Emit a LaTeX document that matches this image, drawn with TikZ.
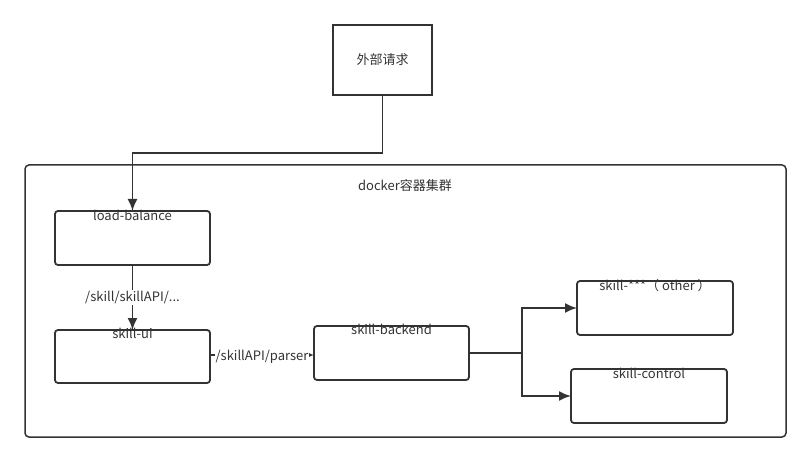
\documentclass[tikz,border=0pt]{standalone}
\usepackage{fontspec}
\setmainfont{Noto Sans CJK SC}
\usetikzlibrary{arrows.meta}
\definecolor{ln}{HTML}{333333}
\begin{document}
\begin{tikzpicture}[x=1pt,y=-1pt,
  txt/.style={font=\fontsize{13}{15}\selectfont, text=ln, inner sep=0pt},
  svc/.style={draw=ln, line width=1.8pt, rounded corners=3pt},
  conn/.style={draw=ln, line width=1.8pt, -{Latex[length=12pt,width=10pt]}},
  lbl/.style={txt, fill=white, inner sep=1pt}]
\useasboundingbox (0,0) rectangle (811,462);
% external request
\draw[draw=ln, line width=1.8pt] (333,25) rectangle (432,95);
\node[txt] (ext) at (382.5,60) {外部请求};
\coordinate (extb) at (382.5,95);
% container
\draw[draw=ln, line width=1.5pt, rounded corners=4pt] (25,165) rectangle (786,437);
\node[txt] (dock) at (405,186) {docker容器集群};
% boxes
\draw[svc] (55,211) rectangle (210,265);
\node[txt, anchor=north] (lbt) at (132.5,210) {load-balance};
\coordinate (lbtop) at (132.5,211);
\coordinate (lbbot) at (132.5,265);

\draw[svc] (55,330) rectangle (210,383);
\node[txt, anchor=north] (uit) at (132.5,328) {skill-ui};
\coordinate (uitop) at (132.5,330);
\coordinate (uiright) at (210,355);

\draw[svc] (314,326) rectangle (469,380);
\node[txt, anchor=north] (bet) at (391.5,324) {skill-backend};
\coordinate (beleft) at (314,355);
\coordinate (beright) at (469,353);

\draw[svc] (577,281) rectangle (733,335);
\node[txt, anchor=north] (ot) at (655,279) {skill-***（ other ）};
\coordinate (otleft) at (577,308);

\draw[svc] (571,369) rectangle (727,423);
\node[txt, anchor=north] (ct) at (649,368) {skill-control};
\coordinate (ctleft) at (571,396);

% connectors
\draw[conn] (extb) -- (382.5,153) -- (132.5,153) -- (lbtop);
\draw[conn] (lbbot) -- node[lbl] (l1) {/skill/skillAPI/...} (uitop);
\draw[draw=ln, line width=1.5pt, -{Latex[length=5pt,width=4pt]}] (uiright) -- (beleft);
\node[lbl, inner sep=0.5pt] (l2) at (262,357) {/skillAPI/parser};
\draw[conn] (beright) -- (522,353) -- (522,308) -- (otleft);
\draw[conn] (522,353) -- (522,396) -- (ctleft);
\end{tikzpicture}
\end{document}
